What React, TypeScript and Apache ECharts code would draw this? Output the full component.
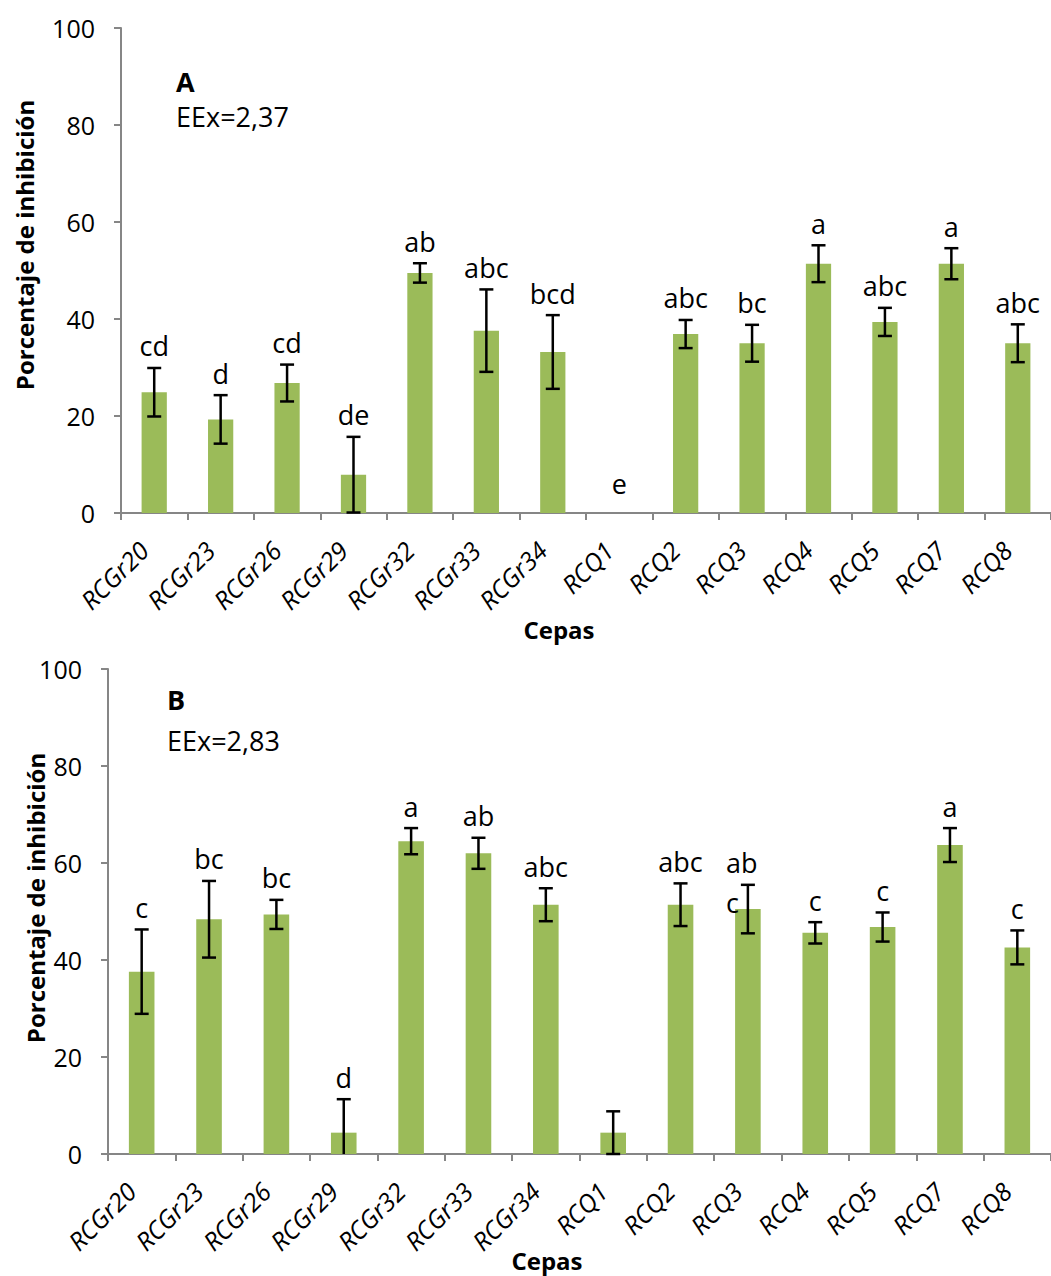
import React, { useEffect, useRef } from "react";
import * as echarts from "echarts";

// Strains on the x axis (same for both panels)
const categories = [
  "RCGr20", "RCGr23", "RCGr26", "RCGr29", "RCGr32", "RCGr33", "RCGr34",
  "RCQ1", "RCQ2", "RCQ3", "RCQ4", "RCQ5", "RCQ7", "RCQ8",
];

// Panel A: mean inhibition (%), standard error, significance letters
const meansA = [24.9, 19.3, 26.8, 7.9, 49.5, 37.6, 33.2, 0, 36.9, 35.0, 51.4, 39.4, 51.4, 35.0];
const errorsA = [5.0, 5.0, 3.8, 7.8, 2.0, 8.5, 7.6, 0, 2.9, 3.8, 3.8, 2.9, 3.2, 3.9];
const lettersA = ["cd", "d", "cd", "de", "ab", "abc", "bcd", "e", "abc", "bc", "a", "abc", "a", "abc"];

// Panel B
const meansB = [37.6, 48.4, 49.4, 4.4, 64.5, 62.0, 51.4, 4.4, 51.4, 50.5, 45.6, 46.8, 63.7, 42.6];
const errorsB = [8.7, 7.9, 3.0, 6.9, 2.7, 3.2, 3.4, 4.4, 4.4, 5.0, 2.2, 3.0, 3.5, 3.5];
const lettersB = ["c", "bc", "bc", "d", "a", "ab", "abc", "", "abc", "ab\nc", "c", "c", "a", "c"];

const yTicks = [0, 20, 40, 60, 80, 100];

const FONT = '"Open Sans", "Noto Sans", sans-serif';
const AXIS_GREY = "#868686";
const BAR_GREEN = "#9BBB59";

function axisPair(gridIndex: number) {
  const xAxis = {
    type: "category",
    gridIndex,
    data: categories,
    boundaryGap: true,
    axisLine: { show: true, lineStyle: { color: AXIS_GREY, width: 2 } },
    axisTick: { show: true, length: 7, lineStyle: { color: AXIS_GREY, width: 2 } },
    axisLabel: {
      interval: 0,
      rotate: 45,
      margin: 22,
      padding: [0, 15, 0, 0],
      color: "#000",
      fontFamily: FONT,
      fontStyle: "italic",
      fontSize: 25,
    },
    splitLine: { show: false },
  };
  const yAxis = {
    type: "value",
    gridIndex,
    min: yTicks[0],
    max: yTicks[yTicks.length - 1],
    interval: 20,
    axisLine: { show: true, lineStyle: { color: AXIS_GREY, width: 2 } },
    axisTick: { show: true, length: 7, lineStyle: { color: AXIS_GREY, width: 2 } },
    axisLabel: { margin: 26, color: "#000", fontFamily: FONT, fontSize: 25 },
    splitLine: { show: false },
  };
  return { xAxis, yAxis };
}

function errorSeries(gridIndex: number, means: number[], errors: number[], letters: string[]) {
  return {
    type: "custom",
    xAxisIndex: gridIndex,
    yAxisIndex: gridIndex,
    z: 5,
    clip: false,
    data: means.map((m, i) => [i, m, errors[i]]),
    encode: { x: 0, y: 1 },
    renderItem: (params: any, api: any) => {
      const i = api.value(0);
      const mean = api.value(1);
      const err = api.value(2);
      const low = mean - err;
      const top = api.coord([i, mean + err]);
      const bottom = api.coord([i, Math.max(0, low)]);
      const cx = top[0];
      const half = 7;
      const line = { stroke: "#000", lineWidth: 2.5 };
      const children: any[] = [];
      if (err > 0) {
        children.push({ type: "line", shape: { x1: cx, y1: top[1], x2: cx, y2: bottom[1] }, style: line });
        children.push({ type: "line", shape: { x1: cx - half, y1: top[1], x2: cx + half, y2: top[1] }, style: line });
        if (low >= 0) {
          children.push({ type: "line", shape: { x1: cx - half, y1: bottom[1], x2: cx + half, y2: bottom[1] }, style: line });
        }
      }
      const text = letters[params.dataIndex];
      if (text) {
        const wrapped = text.indexOf("\n") >= 0;
        const gap = err > 0 ? 22 : 30;
        children.push({
          type: "text",
          x: wrapped ? cx - 22 : cx,
          y: wrapped ? top[1] - gap - 20 : top[1] - gap,
          style: {
            text,
            fill: "#000",
            fontFamily: FONT,
            fontSize: 27,
            lineHeight: 40,
            align: wrapped ? "left" : "center",
            verticalAlign: wrapped ? "top" : "middle",
          },
        });
      }
      return { type: "group", children };
    },
  };
}

function barSeries(gridIndex: number, means: number[]) {
  return {
    type: "bar",
    xAxisIndex: gridIndex,
    yAxisIndex: gridIndex,
    data: means,
    barWidth: "38%",
    itemStyle: { color: BAR_GREEN },
    z: 2,
  };
}

function txt(x: number, y: number, text: string, size: number, bold: boolean, align = "left", rotation = 0) {
  return {
    type: "text",
    x,
    y,
    rotation,
    style: {
      text,
      fill: "#000",
      fontFamily: FONT,
      fontSize: size,
      fontWeight: bold ? "bold" : "normal",
      align,
      verticalAlign: "middle",
    },
  };
}

export default function App() {
  const ref = useRef<HTMLDivElement>(null);

  useEffect(() => {
    if (!ref.current) return;
    const chart = echarts.init(ref.current, null, { renderer: "svg" });
    const a = axisPair(0);
    const b = axisPair(1);
    chart.setOption({
      animation: false,
      backgroundColor: "#fff",
      grid: [
        { left: 121, top: 28, width: 937, height: 485 },
        { left: 108, top: 669, width: 943, height: 485 },
      ],
      xAxis: [a.xAxis, b.xAxis],
      yAxis: [a.yAxis, b.yAxis],
      series: [
        barSeries(0, meansA),
        errorSeries(0, meansA, errorsA, lettersA),
        barSeries(1, meansB),
        errorSeries(1, meansB, errorsB, lettersB),
      ],
      graphic: [
        txt(176, 81, "A", 27, true),
        txt(176, 116, "EEx=2,37", 27, false),
        txt(559, 629, "Cepas", 24, true, "center"),
        txt(24, 245, "Porcentaje de inhibición", 24, true, "center", Math.PI / 2),
        txt(167, 699, "B", 27, true),
        txt(167, 740, "EEx=2,83", 27, false),
        txt(547, 1260, "Cepas", 24, true, "center"),
        txt(35, 898, "Porcentaje de inhibición", 24, true, "center", Math.PI / 2),
      ],
    });
    return () => chart.dispose();
  }, []);

  return (
    <div
      ref={ref}
      style={{ position: "absolute", left: 0, top: 0, width: 1051, height: 1276, background: "#fff" }}
    />
  );
}
